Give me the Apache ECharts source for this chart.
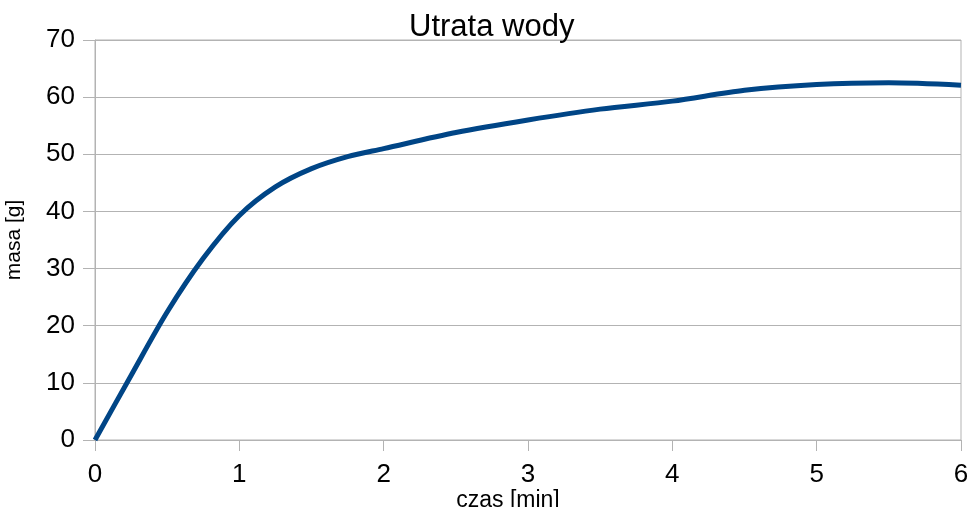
<!DOCTYPE html>
<html>
<head>
<meta charset="utf-8">
<script src="https://cdn.jsdelivr.net/npm/echarts@6/dist/echarts.min.js"></script>
<style>html,body{margin:0;padding:0;background:#fff;}#c{width:969px;height:507px;}</style>
</head>
<body>
<div id="c"></div>
<script>
const titleText = 'Utrata wody';
const xName = 'czas [min]';
const yName = 'masa [g]';
const times = [0, 0.25, 0.5, 0.75, 1, 1.25, 1.5, 1.75, 2, 2.5, 3, 3.5, 4, 4.5, 5, 5.5, 6];
const masses = [0, 11.3, 22.4, 31.8, 39.3, 44.3, 47.5, 49.6, 51, 53.8, 56, 57.9, 59.3, 61.2, 62.2, 62.5, 62.1];

const font = 'Liberation Sans, Arial, sans-serif';
const chart = echarts.init(document.getElementById('c'));
chart.setOption({
  animation: false,
  backgroundColor: '#fff',
  title: {
    text: titleText, left: 404, top: 7,
    textStyle: { fontFamily: font, fontSize: 31, fontWeight: 'normal', color: '#000' }
  },
  grid: { left: 95, right: 8, top: 40, bottom: 67, show: true, borderColor: '#b3b3b3', borderWidth: 1,
          containLabel: false, outerBoundsMode: 'none' },
  xAxis: {
    type: 'value', min: 0, max: 6, interval: 1,
    name: xName, nameLocation: 'middle', nameGap: 49, nameMoveOverlap: false,
    nameTextStyle: { fontFamily: font, fontSize: 23, color: '#000', padding: [0, 40, 0, 0] },
    axisLine: { show: true, lineStyle: { color: '#b3b3b3', width: 1 } },
    axisTick: { show: true, length: 11, lineStyle: { color: '#b3b3b3' } },
    axisLabel: { fontFamily: font, fontSize: 26, color: '#000', margin: 22 },
    splitLine: { show: false }
  },
  yAxis: {
    type: 'value', min: 0, max: 70, interval: 10,
    name: yName, nameLocation: 'middle', nameGap: 70, nameMoveOverlap: false,
    nameTextStyle: { fontFamily: font, fontSize: 21, color: '#000' },
    axisLine: { show: true, lineStyle: { color: '#b3b3b3', width: 1 } },
    axisTick: { show: true, length: 12, lineStyle: { color: '#b3b3b3' } },
    axisLabel: { fontFamily: font, fontSize: 26, color: '#000', margin: 20 },
    splitLine: { show: true, lineStyle: { color: '#b3b3b3', width: 1 } }
  },
  series: [{
    type: 'line',
    data: times.map((t, i) => [t, masses[i]]),
    smooth: 0.3,
    showSymbol: false,
    lineStyle: { color: '#004586', width: 5 },
    itemStyle: { color: '#004586' }
  }]
});
</script>
</body>
</html>
